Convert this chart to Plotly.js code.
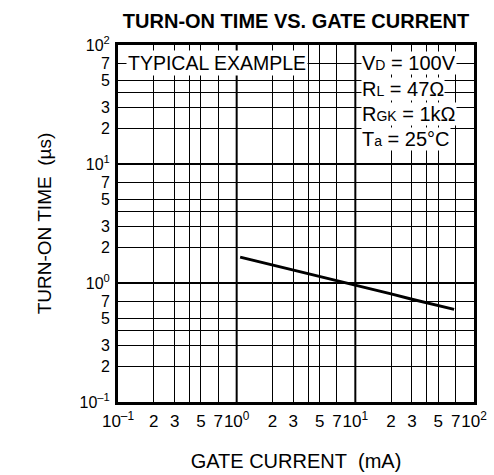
<!DOCTYPE html>
<html>
<head>
<meta charset="utf-8">
<script src="https://cdn.plot.ly/plotly-3.0.1.min.js"></script>
<style>
html,body{margin:0;padding:0;background:#fff;}
#chart{width:494px;height:475px;}
</style>
</head>
<body>
<div id="chart"></div>
<script>
// ---- data ----
const gateCurrent = [1.07, 2, 3, 5, 7, 10, 20, 30, 50, 68];          // mA
const turnOnTime  = [1.65, 1.42, 1.28, 1.13, 1.04, 0.96, 0.81, 0.73, 0.645, 0.60]; // µs

const tickVals = [0.1,0.2,0.3,0.5,0.7,1,2,3,5,7,10,20,30,50,70,100];
const tickText = ['10<sup>–1</sup>','2','3','5','7','10<sup>0</sup>','2','3','5','7','10<sup>1</sup>','2','3','5','7','10<sup>2</sup>'];
const unlabeledGrid = [0.4, 4, 40];
const decades = [1, 10];

const titleText = 'TURN-ON TIME VS. GATE CURRENT';
const xTitle = 'GATE CURRENT\u00a0\u00a0(mA)';
const yTitle = 'TURN-ON TIME\u00a0\u00a0(µs)';
const condLines = [
  'V<span style="font-size:14px">D</span> = 100V',
  'R<span style="font-size:14px">L</span> = 47Ω',
  'R<span style="font-size:14px">GK</span> = 1kΩ',
  'T<span style="font-size:14px">a</span> = 25°C'
];
const exampleText = 'TYPICAL EXAMPLE';

const FONT = 'Liberation Sans, Arial, sans-serif';

const trace = {
  x: gateCurrent, y: turnOnTime, type: 'scatter', mode: 'lines',
  line: {color: '#000', width: 3}, hoverinfo: 'skip', showlegend: false
};

const shapes = [];
decades.forEach(d => {
  shapes.push({type:'line', xref:'x', yref:'paper', x0:d, x1:d, y0:0, y1:1, line:{color:'#000', width:2}, layer:'below'});
  shapes.push({type:'line', xref:'paper', yref:'y', x0:0, x1:1, y0:d, y1:d, line:{color:'#000', width:2}, layer:'below'});
});

const annotations = [];
annotations.push({xref:'paper', yref:'paper', x:0.022, y:0.95, xanchor:'left', yanchor:'middle',
  text: exampleText, showarrow:false, bgcolor:'#fff', borderpad:1, font:{family:FONT, size:19.5, color:'#000'}});
const condY = [0.95, 0.878, 0.808, 0.738];
condLines.forEach((t,i) => {
  annotations.push({xref:'paper', yref:'paper', x:0.683, y:condY[i], xanchor:'left', yanchor:'middle',
    text: t, showarrow:false, bgcolor:'#fff', borderpad:0, font:{family:FONT, size:20, color:'#000'}});
});

const axisCommon = {
  type:'log', tickmode:'array', tickvals: tickVals, ticktext: tickText,
  showgrid:true, gridcolor:'#000', gridwidth:1, zeroline:false,
  showline:true, linecolor:'#000', linewidth:3, mirror:true,
  ticks:'',
  minor:{tickmode:'array', tickvals: unlabeledGrid, showgrid:true, gridcolor:'#000', gridwidth:1, ticks:''}
};

const layout = {
  width:494, height:475,
  margin:{l:118, r:20, t:45, b:73},
  paper_bgcolor:'#fff', plot_bgcolor:'#fff',
  title:{text:'<b>'+titleText+'</b>', x:0.5, xref:'paper', y:0.956, yanchor:'middle',
    font:{family:FONT, size:20, color:'#000'}},
  xaxis: Object.assign({}, axisCommon, {range:[-1,2], tickangle:0, ticklabelstandoff:2,
    tickfont:{family:FONT, size:17, color:'#000'},
    title:{text:xTitle, font:{family:FONT, size:20, color:'#000'}, standoff:24}}),
  yaxis: Object.assign({}, axisCommon, {range:[-1,2], ticklabelstandoff:2,
    tickfont:{family:FONT, size:16, color:'#000'},
    title:{text:yTitle, font:{family:FONT, size:19, color:'#000'}, standoff:23}}),
  shapes: shapes,
  annotations: annotations
};

Plotly.newPlot('chart', [trace], layout, {staticPlot:true, displayModeBar:false});
</script>
</body>
</html>
